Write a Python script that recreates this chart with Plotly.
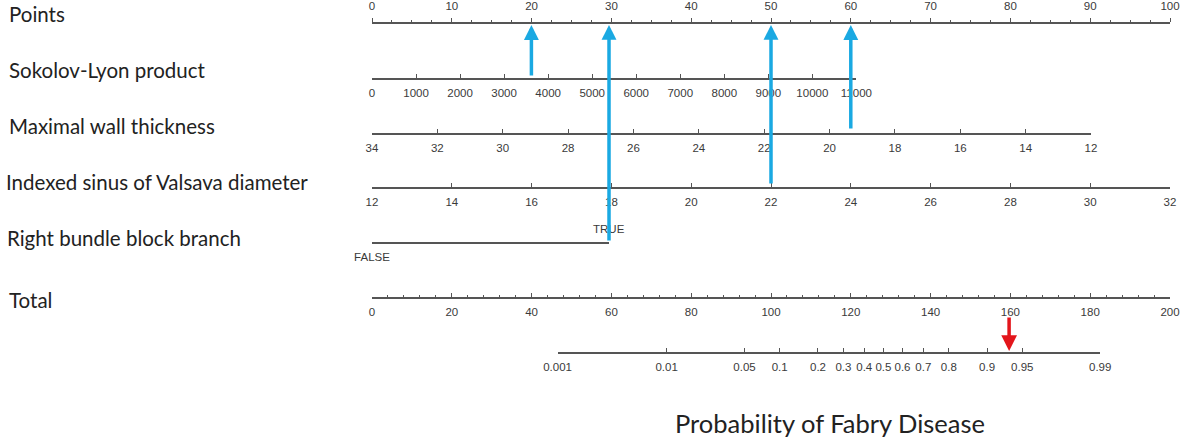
import numpy as np
import plotly.graph_objects as go

# ---------------- data ----------------
POINTS_TICKS = list(range(0, 101, 10))
POINTS_RANGE = [0, 100]

SOKOLOV_TICKS = list(range(0, 11001, 1000))
SOKOLOV_RANGE = [0, 11000]
SOKOLOV_POINTS = [0, 60.7]

MWT_TICKS = list(range(34, 11, -2))
MWT_RANGE = [34, 12]
MWT_POINTS = [0, 90.1]

VALSAVA_TICKS = list(range(12, 33, 2))
VALSAVA_RANGE = [12, 32]
VALSAVA_POINTS = [0, 100]

RBBB_LEVELS = ["FALSE", "TRUE"]
RBBB_POINTS = [0, 29.7]

TOTAL_TICKS = list(range(0, 201, 20))
TOTAL_RANGE = [0, 200]

PROB_TICKS = [0.001, 0.01, 0.05, 0.1, 0.2, 0.3, 0.4, 0.5, 0.6, 0.7, 0.8, 0.9, 0.95, 0.99]
PROB_RANGE = [0.001, 0.99]
PROB_TOTAL_POINTS = [46.5, 182.5]

PATIENT_SOKOLOV = 3620
PATIENT_MWT = 19.35
PATIENT_VALSAVA = 22
PATIENT_RBBB = "TRUE"

ROW_LABELS = ["Points", "Sokolov-Lyon product", "Maximal wall thickness",
              "Indexed sinus of Valsava diameter", "Right bundle block branch", "Total"]
TITLE = "Probability of Fabry Disease"

# ---------------- geometry / style ----------------
W, H = 1181, 437
X0, X1 = 372, 1170
ROW_Y = [22, 78, 133, 187, 242, 297, 352]
LABEL_Y = [14, 70, 126, 182, 238, 300]
LABEL_X = [7, 7, 7, 4, 5, 7]
BLUE = "#1AA9E2"
RED = "#E3151B"
LINE = "#555555"
TXT = "#3a3a3a"
TICKFONT = dict(family="Liberation Sans, Arial", size=11.5, color=TXT)


def px(points):
    return (X0 + (X1 - X0) * points / 100.0) / W


def yp(ypx):
    return 1 - ypx / H


def logit(p):
    return float(np.log(p / (1 - p)))


def pts_lin(v, vals, pts):
    order = np.argsort(vals)
    return float(np.interp(v, np.array(vals)[order], np.array(pts)[order]))


pts_sok = pts_lin(PATIENT_SOKOLOV, SOKOLOV_RANGE, SOKOLOV_POINTS)
pts_mwt = pts_lin(PATIENT_MWT, MWT_RANGE, MWT_POINTS)
pts_val = pts_lin(PATIENT_VALSAVA, VALSAVA_RANGE, VALSAVA_POINTS)
pts_rb = RBBB_POINTS[RBBB_LEVELS.index(PATIENT_RBBB)]
TOTAL = pts_sok + pts_mwt + pts_val + pts_rb

total_scale = (TOTAL_RANGE[1] - TOTAL_RANGE[0]) / (POINTS_RANGE[1] - POINTS_RANGE[0])

fig = go.Figure()

axis_specs = [
    # name, range, points extent, tickvals, ticktext, row, side, minor dtick
    ("x", POINTS_RANGE, [0, 100], POINTS_TICKS, [str(t) for t in POINTS_TICKS], 0, "top", 2.5),
    ("x2", SOKOLOV_RANGE, SOKOLOV_POINTS, SOKOLOV_TICKS, [str(t) for t in SOKOLOV_TICKS], 1, "bottom", None),
    ("x3", MWT_RANGE, MWT_POINTS, MWT_TICKS, [str(t) for t in MWT_TICKS], 2, "bottom", None),
    ("x4", VALSAVA_RANGE, VALSAVA_POINTS, VALSAVA_TICKS, [str(t) for t in VALSAVA_TICKS], 3, "bottom", None),
    ("x5", [0, 1], RBBB_POINTS, [0, 1], [RBBB_LEVELS[0], ""], 4, "bottom", None),
    ("x6", TOTAL_RANGE, [0, 100], TOTAL_TICKS, [str(t) for t in TOTAL_TICKS], 5, "bottom", 4),
    ("x7", [logit(PROB_RANGE[0]), logit(PROB_RANGE[1])],
     [PROB_TOTAL_POINTS[0] / total_scale, PROB_TOTAL_POINTS[1] / total_scale],
     [logit(p) for p in PROB_TICKS], [f"{p:g}" for p in PROB_TICKS], 6, "bottom", None),
]

layout_axes = {}
for name, rng, pext, tv, tt, row, side, minor in axis_specs:
    key = "xaxis" if name == "x" else "xaxis" + name[1:]
    ax = dict(
        domain=[px(pext[0]), px(pext[1])],
        range=rng,
        anchor="free",
        position=yp(ROW_Y[row]),
        side=side,
        automargin=False,
        showline=True,
        linecolor=LINE,
        linewidth=1.7,
        showgrid=False,
        zeroline=False,
        tickmode="array",
        tickvals=tv,
        ticktext=tt,
        ticks="outside" if side == "top" else "inside",
        ticklen=4,
        tickwidth=1,
        tickcolor=LINE,
        ticklabelstandoff=3,
        tickfont=TICKFONT,
        fixedrange=True,
    )
    if minor:
        ax["minor"] = dict(dtick=minor, tick0=rng[0], ticklen=2, tickcolor=LINE,
                           ticks="outside" if side == "top" else "inside", showgrid=False)
    layout_axes[key] = ax
    fig.add_trace(go.Scatter(x=[rng[0], rng[1]], y=[0.5, 0.5], xaxis=name, yaxis="y",
                             mode="markers", marker=dict(opacity=0), hoverinfo="skip",
                             showlegend=False))

annotations = []
for lab, ly, lx in zip(ROW_LABELS, LABEL_Y, LABEL_X):
    annotations.append(dict(text=lab, x=lx / W, y=yp(ly), xref="paper", yref="paper",
                            xanchor="left", yanchor="middle", showarrow=False,
                            font=dict(family="Lato, Open Sans", size=20.5, color="#222")))

annotations.append(dict(text=RBBB_LEVELS[1], x=1, xref="x5", y=yp(229), yref="y",
                        xanchor="center", yanchor="middle", showarrow=False,
                        font=TICKFONT))

annotations.append(dict(text=TITLE, x=830 / W, y=yp(423), xref="paper", yref="paper",
                        xanchor="center", yanchor="middle", showarrow=False,
                        font=dict(family="Lato, Open Sans", size=25.5, color="#222")))

# blue arrows from each predictor value up to the Points axis
blue_arrows = [
    ("x2", PATIENT_SOKOLOV, ROW_Y[1] - 1),
    ("x5", RBBB_LEVELS.index(PATIENT_RBBB), ROW_Y[4]),
    ("x4", PATIENT_VALSAVA, ROW_Y[3] - 2),
    ("x3", PATIENT_MWT, ROW_Y[2] - 3),
]
for xr, xv, tail in blue_arrows:
    annotations.append(dict(text="", x=xv, xref=xr, y=yp(ROW_Y[0] + 3), yref="y",
                            ax=xv, axref=xr, ay=yp(tail), ayref="y",
                            showarrow=True, arrowhead=2, arrowsize=0.85, arrowwidth=3.5,
                            arrowcolor=BLUE))

# red arrow from total points down to probability axis
annotations.append(dict(text="", x=TOTAL, xref="x6", y=yp(ROW_Y[6] - 1), yref="y",
                        ax=TOTAL, axref="x6", ay=yp(316), ayref="y",
                        showarrow=True, arrowhead=2, arrowsize=0.9, arrowwidth=3.5,
                        arrowcolor=RED))

fig.update_layout(
    width=W, height=H,
    margin=dict(l=0, r=0, t=0, b=0, pad=0, autoexpand=False),
    paper_bgcolor="white",
    plot_bgcolor="rgba(0,0,0,0)",
    yaxis=dict(domain=[0, 1], range=[0, 1], visible=False, fixedrange=True, automargin=False),
    annotations=annotations,
    showlegend=False,
    hovermode=False,
)

fig.update_layout(**layout_axes)

fig.write_html(
    "out.html",
    config={"displayModeBar": False, "staticPlot": True},
    post_script="document.body.style.margin='0px';document.body.style.padding='0px';"
                "document.body.style.overflow='hidden';",
)
